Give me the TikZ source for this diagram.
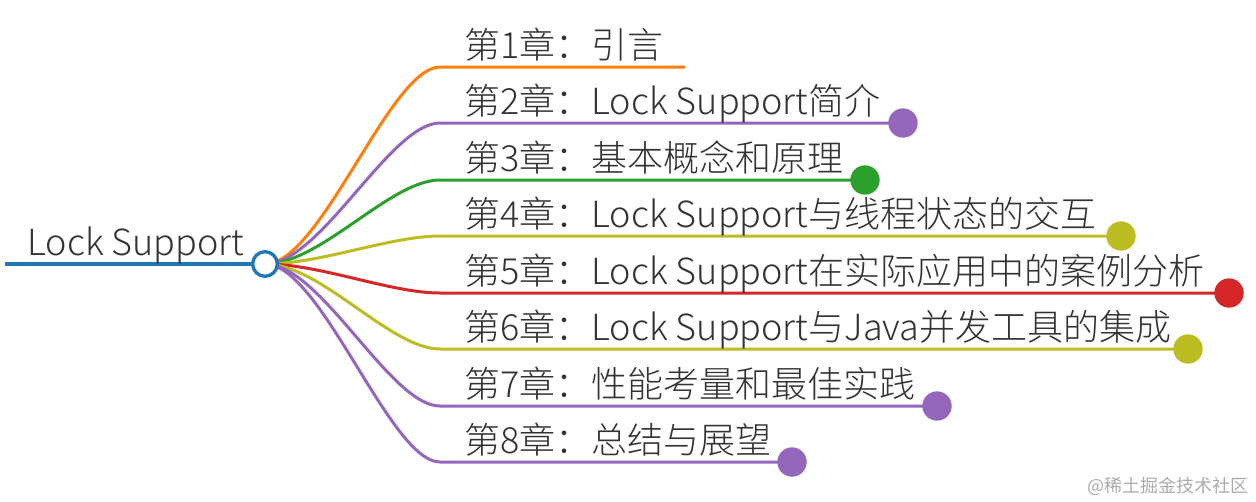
\documentclass[tikz,border=0pt]{standalone}
\usepackage{fontspec}
\setmainfont{Noto Sans CJK SC Light}
\newfontfamily\wmfont{Noto Sans CJK SC}
\usetikzlibrary{backgrounds}
\definecolor{cblue}{HTML}{1F77B4}
\definecolor{corange}{HTML}{FF7F0E}
\definecolor{cpurple}{HTML}{9467BD}
\definecolor{cgreen}{HTML}{2CA02C}
\definecolor{colive}{HTML}{BCBD22}
\definecolor{cred}{HTML}{D62728}
\definecolor{ctext}{HTML}{333333}
\tikzset{
  lbl/.style={anchor=base west, inner sep=0pt, text=ctext, font=\fontsize{27pt}{30pt}\selectfont},
  enddot/.style={circle, fill=#1, minimum size=22pt, inner sep=0pt},
  branch/.style={draw=#1, line width=2.25pt},
}
\begin{document}
\begin{tikzpicture}[x=0.75pt,y=-0.75pt]
\useasboundingbox (0,0) rectangle (1256,501);
% root
\coordinate (rl) at (5,264);
\node[circle, draw=cblue, fill=white, line width=2.5pt, minimum size=18.5pt, inner sep=0pt] (root) at (265,264) {};
\node[lbl] (roottxt) at (27,255) {Lock Support};
% branch start coordinates
\coordinate (s1) at (440,67);
\coordinate (s2) at (440,123);
\coordinate (s3) at (440,180);
\coordinate (s4) at (440,236);
\coordinate (s5) at (440,293);
\coordinate (s6) at (440,349);
\coordinate (s7) at (440,406);
\coordinate (s8) at (440,462);
\coordinate (e1) at (685,67);
% dots
\node[enddot=cpurple] (d2) at (903,123) {};
\node[enddot=cgreen] (d3) at (865,180) {};
\node[enddot=colive] (d4) at (1121,236) {};
\node[enddot=cred] (d5) at (1229,293) {};
\node[enddot=colive] (d6) at (1188,349) {};
\node[enddot=cpurple] (d7) at (937,406) {};
\node[enddot=cpurple] (d8) at (792,462) {};
% labels
\node[lbl] (t1) at (464,58) {第1章：引言};
\node[lbl] (t2) at (464,114) {第2章：Lock Support简介};
\node[lbl] (t3) at (464,171) {第3章：基本概念和原理};
\node[lbl] (t4) at (464,227) {第4章：Lock Support与线程状态的交互};
\node[lbl] (t5) at (464,284) {第5章：Lock Support在实际应用中的案例分析};
\node[lbl] (t6) at (464,340) {第6章：Lock Support与Java并发工具的集成};
\node[lbl] (t7) at (464,397) {第7章：性能考量和最佳实践};
\node[lbl] (t8) at (464,453) {第8章：总结与展望};
% watermark
\node[anchor=east, inner sep=0pt, text=black!33, font=\wmfont\fontsize{13.5pt}{15pt}\selectfont] (wm) at (1249,486) {@稀土掘金技术社区};
\begin{scope}[on background layer]
\draw[cblue, line width=3pt] (rl) -- (root.center);
\draw[branch=corange] (root.center) .. controls +(56,0) and +(-50,0) .. (s1) -- (e1);
\draw[branch=cpurple] (root.center) .. controls +(56,0) and +(-50,0) .. (s2) -- (d2.center);
\draw[branch=cgreen] (root.center) .. controls +(56,0) and +(-50,0) .. (s3) -- (d3.center);
\draw[branch=colive] (root.center) .. controls +(56,0) and +(-50,0) .. (s4) -- (d4.center);
\draw[branch=cred] (root.center) .. controls +(56,0) and +(-50,0) .. (s5) -- (d5.center);
\draw[branch=colive] (root.center) .. controls +(56,0) and +(-50,0) .. (s6) -- (d6.center);
\draw[branch=cpurple] (root.center) .. controls +(56,0) and +(-50,0) .. (s7) -- (d7.center);
\draw[branch=cpurple] (root.center) .. controls +(56,0) and +(-50,0) .. (s8) -- (d8.center);
\end{scope}
\end{tikzpicture}
\end{document}
